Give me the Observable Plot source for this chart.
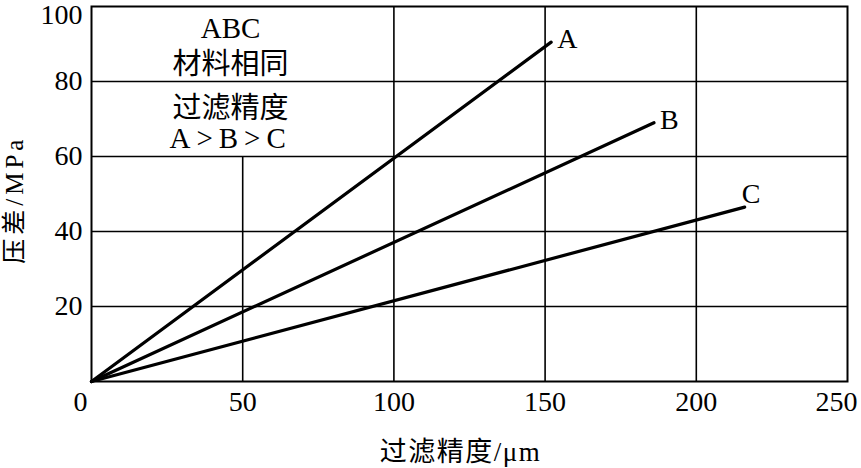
<!DOCTYPE html>
<html>
<head>
<meta charset="utf-8">
<script src="https://cdn.jsdelivr.net/npm/d3@7"></script>
<script src="https://cdn.jsdelivr.net/npm/@observablehq/plot@0.6"></script>
<style>
  html, body { margin: 0; padding: 0; background: #fff; }
  svg { display: block; }
</style>
</head>
<body>
<div id="chart"></div>
<script>
// Data
const seriesNames = ["A", "B", "C"];
const accuracyStart = [0, 0, 0];          // μm
const pressureStart = [0, 0, 0];          // MPa
const accuracyEnd = [152, 186, 216];      // μm
const pressureEnd = [90.5, 69, 46.5];     // MPa

const xTicks = [0, 50, 100, 150, 200, 250];
const yTicks = [20, 40, 60, 80, 100];
const noteLines = ["ABC", "材料相同", "过滤精度", "A>B>C"];
const noteY = [94.2, 84.6, 72.8, 64.8];
const noteX = 46;
const xTitle = "过滤精度/μm";
const yTitle = "压差/MPa";

const lines = [];
seriesNames.forEach((s, i) => {
  lines.push({series: s, x: accuracyStart[i], y: pressureStart[i]});
  lines.push({series: s, x: accuracyEnd[i], y: pressureEnd[i]});
});
const ends = seriesNames.map((s, i) => ({series: s, x: accuracyEnd[i], y: pressureEnd[i]}));
const notes = noteLines.map((t, i) => ({t, y: noteY[i]}));

const serif = "'Liberation Serif', 'Times New Roman', 'Noto Sans CJK SC', serif";
const fs = 28;

const chart = Plot.plot({
  width: 861,
  height: 468,
  marginLeft: 91,
  marginTop: 6,
  marginRight: 14,
  marginBottom: 87,
  style: {fontFamily: serif, fontSize: "28px", color: "#000", background: "#fff"},
  x: {domain: [0, 250], axis: null},
  y: {domain: [0, 100], axis: null},
  marks: [
    // grid
    Plot.ruleY(yTicks.filter(d => d < 100), {stroke: "#000", strokeWidth: 1.6}),
    Plot.ruleX(xTicks.filter(d => d > 50 && d < 250), {stroke: "#000", strokeWidth: 1.6}),
    Plot.ruleX([50], {y1: 0, y2: 60, stroke: "#000", strokeWidth: 1.6}),
    Plot.frame({stroke: "#000", strokeWidth: 2}),
    // y tick labels
    Plot.text(yTicks.filter(d => d < 100), {x: 0, y: d => d, text: d => String(d), textAnchor: "end", dx: -9, fontSize: fs, fontFamily: serif}),
    Plot.text(yTicks.filter(d => d === 100), {x: 0, y: d => d, text: d => String(d), textAnchor: "end", dx: -9, dy: 9, fontSize: fs, fontFamily: serif}),
    // x tick labels
    Plot.text(xTicks.filter(d => d > 0 && d < 250), {x: d => d, y: 0, text: d => String(d), lineAnchor: "top", dy: 10, fontSize: fs, fontFamily: serif}),
    Plot.text(xTicks.filter(d => d === 0), {x: d => d, y: 0, text: d => String(d), lineAnchor: "top", dy: 10, dx: -11, fontSize: fs, fontFamily: serif}),
    Plot.text(xTicks.filter(d => d === 250), {x: d => d, y: 0, text: d => String(d), lineAnchor: "top", dy: 10, dx: 10, textAnchor: "end", fontSize: fs, fontFamily: serif}),
    // data lines
    Plot.line(lines, {x: "x", y: "y", z: "series", stroke: "#000", strokeWidth: 3.2}),
    Plot.text(ends.filter(d => d.series !== "C"), {x: "x", y: "y", text: "series", textAnchor: "start", dx: 6, dy: -3, fontSize: fs, fontFamily: serif}),
    Plot.text(ends.filter(d => d.series === "C"), {x: "x", y: "y", text: "series", textAnchor: "start", dx: -3, dy: -13, fontSize: fs, fontFamily: serif}),
    // note
    Plot.text(notes, {x: noteX, y: "y", text: "t", fontSize: 29, fontFamily: serif}),
    // axis titles
    Plot.text([xTitle], {x: 122, y: 0, text: d => d, lineAnchor: "middle", dy: 71, fontSize: 27, fontFamily: serif}),
    Plot.text([yTitle], {x: -25.3, y: 48.5, text: d => d, rotate: -90, fontSize: 25, fontFamily: serif})
  ]
});

// letter spacing tweaks (styling only)
const spacing = new Map([["A>B>C", "6px"], [yTitle, "4px"], [xTitle, "1.5px"]]);
d3.select(chart).selectAll("text").each(function() {
  const t = this.textContent;
  if (spacing.has(t)) d3.select(this).attr("letter-spacing", spacing.get(t));
});
document.getElementById("chart").appendChild(chart);
</script>
</body>
</html>
